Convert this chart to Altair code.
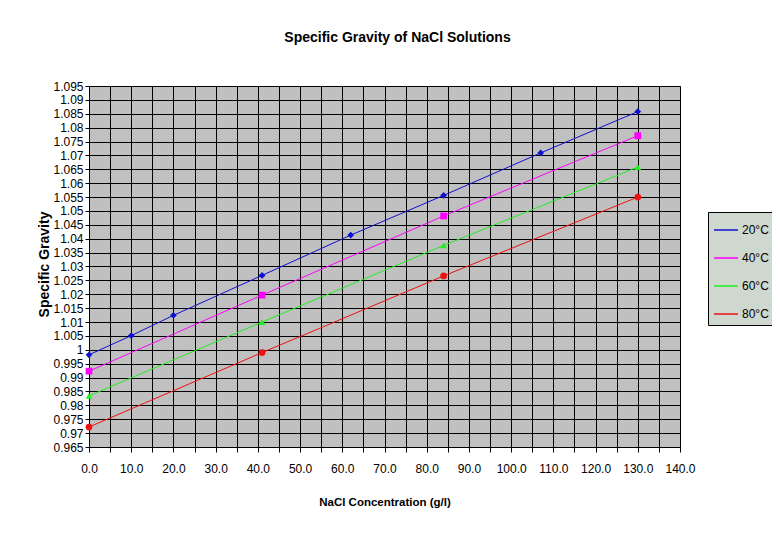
import altair as alt
import pandas as pd

series = ["20°C", "40°C", "60°C", "80°C"]
x20 = [0, 10, 20, 41, 62, 84, 107, 130]
y20 = [0.9982, 1.0051, 1.0124, 1.0268, 1.0413, 1.0556, 1.0709, 1.0858]
x40 = [0, 41, 84, 130]
y40 = [0.9923, 1.0197, 1.0482, 1.0771]
x60 = [0, 41, 84, 130]
y60 = [0.9834, 1.0100, 1.0376, 1.0658]
x80 = [0, 41, 84, 130]
y80 = [0.9722, 0.9990, 1.0266, 1.0550]

x_ticks = list(range(0, 145, 5))
y_ticks = [0.965, 0.97, 0.975, 0.98, 0.985, 0.99, 0.995, 1.0, 1.005, 1.01,
           1.015, 1.02, 1.025, 1.03, 1.035, 1.04, 1.045, 1.05, 1.055, 1.06,
           1.065, 1.07, 1.075, 1.08, 1.085, 1.09, 1.095]

colors = ["#1010D0", "#FF00FF", "#22EE22", "#EE1111"]
shapes = ["diamond", "square", "triangle-up", "circle"]

rows = []
for name, xs, ys in zip(series, [x20, x40, x60, x80], [y20, y40, y60, y80]):
    for xv, yv in zip(xs, ys):
        rows.append({"series": name, "marker": name, "x": xv, "y": yv})
df = pd.DataFrame(rows)

FONT = "Liberation Sans, Arial, sans-serif"

xenc = alt.X("x:Q", scale=alt.Scale(domain=[0, 140], nice=False),
             axis=alt.Axis(values=x_ticks, grid=True, gridColor="black", gridOpacity=1,
                           labelExpr="datum.value % 10 == 0 ? format(datum.value, '.1f') : ''",
                           labelOverlap=False, labelBound=False, labelFlush=False,
                           tickSize=5, tickColor="black", domainColor="black",
                           labelPadding=11, labelFont=FONT, labelFontSize=12, labelColor="black",
                           title="NaCl Concentration (g/l)", titleFont=FONT, titleFontSize=11.5,
                           titleFontWeight="bold", titleColor="black",
                           titleX=295.5, titleY=55, titleBaseline="middle", titleAlign="center"))
yenc = alt.Y("y:Q", scale=alt.Scale(domain=[0.965, 1.095], nice=False, zero=False),
             axis=alt.Axis(values=y_ticks, grid=True, gridColor="black", gridOpacity=1,
                           labelExpr="format(datum.value, '.3~f')",
                           labelOverlap=False, labelBound=False, labelFlush=False,
                           tickSize=4, tickColor="black", domainColor="black",
                           labelPadding=2, labelFont=FONT, labelFontSize=12, labelColor="black",
                           title="Specific Gravity", titleFont=FONT,
                           titleFontSize=14, titleFontWeight="bold", titleColor="black",
                           titleAngle=270, titleX=-45, titleY=178,
                           titleBaseline="middle", titleAlign="center"))

base = alt.Chart(df).encode(x=xenc, y=yenc)

lines = base.mark_line(strokeWidth=1).encode(
    color=alt.Color("series:N", scale=alt.Scale(domain=series, range=colors),
                    legend=alt.Legend(title=None, orient="none", legendX=619, legendY=126,
                                      symbolType="stroke", symbolSize=576, symbolStrokeWidth=1.5,
                                      fillColor="#CFD8CF", strokeColor="black", padding=5,
                                      labelFont=FONT, labelFontSize=12, labelColor="black",
                                      rowPadding=9, labelOffset=3)),
    detail="series:N",
)
points = base.mark_point(filled=True, size=45, opacity=1).encode(
    color=alt.Color("marker:N", scale=alt.Scale(domain=series, range=colors), legend=None),
    shape=alt.Shape("marker:N", scale=alt.Scale(domain=series, range=shapes), legend=None),
)

chart = alt.layer(lines, points).resolve_scale(
    color="independent", shape="independent"
).resolve_legend(color="independent", shape="independent").properties(
    width=591, height=361,
    background="white",
    autosize=alt.AutoSizeParams(type="none"),
    padding={"left": 81, "top": 78, "right": 92, "bottom": 80},
    title=alt.Title("Specific Gravity of NaCl Solutions", font=FONT, fontSize=14,
                    fontWeight="bold", color="black", anchor="middle", offset=35, dx=13),
).configure_view(fill="#C0C0C0", stroke="#808080", strokeWidth=1)

chart.save("out.html", embed_options={"renderer": "svg", "actions": False})
